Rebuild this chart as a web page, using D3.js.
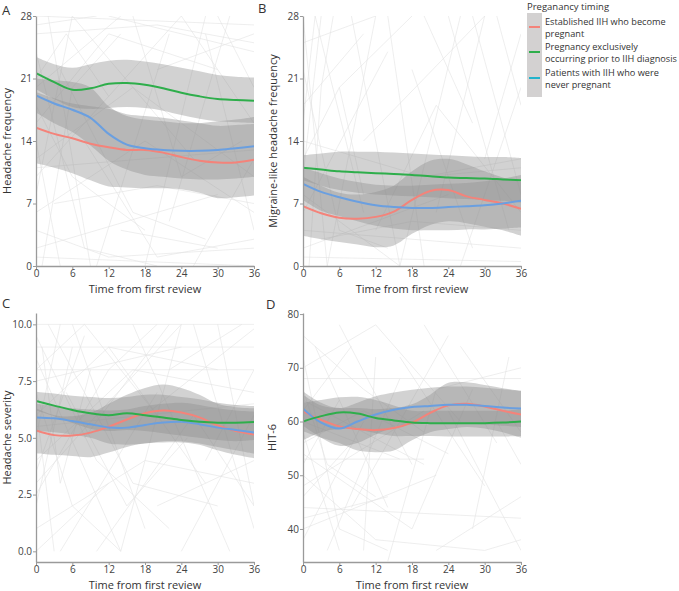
<!DOCTYPE html>
<html><head><meta charset="utf-8">
<script src="https://cdn.jsdelivr.net/npm/d3@7"></script>
<style>body{margin:0;background:#fff} text{font-family:"Open Sans",sans-serif;fill:#333}</style>
</head><body><svg id="c" width="679" height="591"></svg>
<script>
// ---------- data ----------
const times = [0,3,6,9,12,15,18,21,24,27,30,33,36];
const xTicks = [0,6,12,18,24,30,36];
const groups = ["Established IIH who become pregnant","Pregnancy exclusively occurring prior to IIH diagnosis","Patients with IIH who were never pregnant"];

// Panel A: Headache frequency
const aRed   = [15.5,14.8,14.3,13.7,13.3,13.0,13.0,12.7,12.2,11.8,11.6,11.6,11.9];
const aGreen = [21.6,20.6,19.75,19.9,20.4,20.5,20.3,19.9,19.4,19.0,18.7,18.6,18.5];
const aBlue  = [19.1,18.2,17.5,16.6,14.8,13.6,13.2,13.0,12.9,12.9,13.0,13.2,13.4];
const aRedHi = [19.5,18.8,18.2,17.9,17.6,17.0,16.8,16.6,16.3,16.0,15.7,15.8,15.9];
const aRedLo = [11.5,11.0,10.4,9.6,8.9,8.8,8.7,8.7,8.6,8.2,7.6,7.7,7.9];
const aGrnHi = [23.4,22.6,22.2,22.6,23.0,23.1,22.9,22.6,22.2,21.8,21.4,21.2,21.1];
const aGrnLo = [19.8,18.7,17.8,17.6,17.7,17.8,17.7,17.4,16.9,16.5,16.2,16.1,16.0];
const aBluHi = [21.0,20.8,20.6,20.0,17.9,16.8,16.4,16.2,16.0,16.0,16.2,16.4,16.7];
const aBluLo = [17.2,16.0,15.0,13.5,11.8,10.8,10.2,10.0,9.8,9.7,9.7,9.8,10.0];

// Panel B: Migraine-like headache frequency
const bRed   = [6.7,5.9,5.4,5.3,5.5,6.1,7.4,8.4,8.5,7.8,7.4,7.0,6.4];
const bGreen = [11.0,10.8,10.6,10.5,10.4,10.3,10.2,10.05,9.9,9.85,9.8,9.7,9.6];
const bBlue  = [9.2,8.3,7.7,7.2,6.8,6.6,6.5,6.5,6.6,6.7,6.8,7.0,7.3];
const bRedHi = [10.0,9.0,8.2,8.0,8.3,9.0,10.6,11.8,12.0,11.4,10.6,9.9,9.4];
const bRedLo = [3.4,3.0,2.7,2.4,2.1,2.3,3.6,4.6,5.0,4.8,4.4,4.0,3.4];
const bGrnHi = [12.4,12.6,12.8,12.8,12.8,12.7,12.6,12.5,12.4,12.3,12.2,12.2,12.1];
const bGrnLo = [9.6,9.0,8.5,8.2,8.0,7.9,7.8,7.7,7.6,7.5,7.4,7.3,7.1];
const bBluHi = [11.0,10.4,9.8,9.4,9.1,9.0,9.0,9.1,9.2,9.3,9.5,9.8,10.2];
const bBluLo = [7.4,6.2,5.6,5.0,4.5,4.2,4.0,4.0,4.0,4.1,4.1,4.2,4.3];

// Panel C: Headache severity
const cRed   = [5.32,5.12,5.10,5.23,5.49,5.81,6.08,6.2,6.12,5.9,5.55,5.3,5.15];
const cGreen = [6.62,6.42,6.23,6.08,6.0,6.08,6.0,5.9,5.79,5.71,5.67,5.67,5.70];
const cBlue  = [5.9,5.86,5.74,5.6,5.46,5.45,5.57,5.68,5.71,5.6,5.45,5.35,5.24];
const cRedHi = [6.3,6.0,5.95,6.1,6.5,6.9,7.2,7.35,7.2,6.9,6.5,6.35,6.3];
const cRedLo = [4.32,4.25,4.2,4.15,4.35,4.6,4.76,4.8,4.8,4.7,4.45,4.25,4.1];
const cGrnHi = [7.03,6.95,6.85,6.8,6.75,6.8,6.9,6.9,6.8,6.7,6.55,6.45,6.4];
const cGrnLo = [6.2,5.95,5.65,5.4,5.3,5.35,5.3,5.2,5.1,5.0,4.9,4.85,4.9];
const cBluHi = [6.5,6.4,6.3,6.25,6.2,6.25,6.4,6.5,6.55,6.45,6.3,6.2,6.15];
const cBluLo = [5.3,5.25,5.15,5.0,4.75,4.7,4.75,4.85,4.85,4.75,4.6,4.45,4.3];

// Panel D: HIT-6
const dRed   = [61.9,60.3,59.1,58.6,58.4,58.8,59.8,61.6,63.0,63.3,62.8,62.0,61.3];
const dGreen = [60.0,61.0,61.7,61.5,60.65,60.2,59.8,59.7,59.7,59.7,59.7,59.8,60.0];
const dBlue  = [62.4,59.8,58.7,60.0,61.3,62.2,62.7,62.9,63.1,63.1,62.9,62.6,62.4];
const dRedHi = [65.0,63.0,62.5,62.5,62.3,62.5,63.2,65.0,67.2,67.3,66.8,66.2,65.7];
const dRedLo = [58.2,57.0,56.0,54.6,54.3,54.6,56.5,58.0,58.6,59.0,58.7,58.0,57.0];
const dGrnHi = [63.5,64.0,64.5,64.6,64.0,63.0,62.0,62.0,62.0,62.0,62.0,62.0,62.3];
const dGrnLo = [56.5,58.0,58.6,58.5,57.8,57.3,57.3,57.3,57.2,57.2,57.2,57.2,57.3];
const dBluHi = [65.6,63.5,62.5,63.5,64.7,65.4,65.9,66.3,66.5,66.5,66.3,66.0,65.7];
const dBluLo = [59.2,57.0,55.5,56.0,57.6,59.0,59.5,59.7,59.7,59.6,59.5,59.2,59.0];

// individual patient trajectories (t, value pairs)
const bgA = [[0,28,36,27],[0,27,10,28],[0,24,8,2,20,0],[0,20,14,28],[0,18,6,10,18,4],[0,16,12,26,30,22],[0,14,4,0],[0,12,16,20,36,10],[0,10,24,28],[0,8,6,28],[0,6,18,14,36,6],[0,4,12,1,36,2],[0,2,30,8],[0,1,36,0],[2,28,9,0],[4,22,16,6,28,3],[6,28,26,12],[10,0,22,26],[12,28,36,24],[14,4,30,2],[16,28,24,10,34,14],[18,0,28,28],[20,22,36,26],[22,5,32,28],[24,28,36,16],[26,0,36,12],[28,26,36,4],[3,7,20,9,36,7],[0,21,5,26,12,19],[8,14,20,1,36,3],[30,28,36,20],[0,11,36,13],[0,26,20,27,36,25],[1,0,6,20,14,26]];
const bgB = [[0,28,4,0],[0,25,12,28],[0,22,6,4,14,2],[0,18,10,26],[0,14,20,10,36,12],[0,10,3,28],[0,8,16,0],[0,6,14,24],[0,4,36,2],[0,2,24,8],[0,1,36,0.5],[2,28,10,6],[4,0,12,28],[6,20,18,28],[8,28,16,0],[10,14,30,28],[12,4,22,18,36,6],[14,28,20,0],[16,0,26,28],[18,22,28,2],[20,28,28,16],[22,6,30,28],[24,28,34,4],[26,0,36,20],[28,28,36,8],[30,12,36,26],[32,28,36,18],[0,12,6,20,10,8],[3,3,18,5,36,4],[20,10,36,11],[0,16,2,28],[1,0,3,20,5,28]];
const bgC = [[0,10,36,10],[0,9,36,9],[0,8,8,10,20,6],[0,7,6,2,14,0],[0,6,12,9,30,8],[0,5,4,10],[0,4,16,8,36,7],[0,3,10,6,24,10],[0,2,6,9],[0,1,18,4,36,3],[0,0,12,3],[0,9.5,10,4,22,1],[0,8.5,14,0],[0,7.5,24,9],[0,6.5,3,0],[0,3.5,8,9.5],[2,10,16,3,30,2],[4,0,20,7],[6,10,18,1],[8,5,22,10],[10,0,26,6,36,2],[12,9,28,3],[14,0,24,10],[16,10,32,0],[18,6,36,9.8],[20,2,36,4],[22,8,34,10],[24,0,36,6],[26,10,36,1],[28,4,36,8],[0,5.5,36,6.5],[30,10,36,2],[5,7,15,2,25,5],[0,2.5,12,8,20,10],[0,8,36,8],[1,9,4,3,9,8]];
const bgD = [[0,76,10,66,20,58],[0,72,6,40,14,36],[0,70,12,78],[0,68,36,68],[0,66,4,52,12,46],[0,64,20,52],[0,62,8,74],[0,60,16,53],[0,58,6,36],[0,56,10,62,24,54],[0,54,18,40],[0,52,6,64],[0,50,12,38,30,36],[0,48,20,62],[0,46,8,56],[0,44,36,42],[0,42,14,46],[0,40,22,50],[0,38,10,60],[2,74,14,44],[4,36,16,68],[6,78,18,52],[8,44,24,76],[10,36,12,72],[12,78,26,60],[14,34,22,66,36,70],[16,72,30,48],[18,40,28,66],[20,78,32,56],[22,36,36,46],[24,62,36,36],[26,74,36,58],[28,40,34,72],[30,36,36,38],[32,60,36,52],[0,53,20,53]];

const yTicksA = [0,7,14,21,28];
const yTicksC = [0,2.5,5,7.5,10];
const yTicksD = [40,50,60,70,80];

// ---------- drawing ----------
const colRed = "#f4837a", colGreen = "#2eae4b", colBlue = "#6a9fe0", colBlueKey = "#22b3cc";
const svg = d3.select("#c");

const panels = [
  {tag:"A", L:36, R:254, T:16, B:266, dom:[0,28], ticks:yTicksA, fmt:d3.format("d"), ylab:"Headache frequency", ylx:11, tagx:2, tagy:15,
   lines:[aRed,aGreen,aBlue], hi:[aRedHi,aGrnHi,aBluHi], lo:[aRedLo,aGrnLo,aBluLo], bg:bgA},
  {tag:"B", L:303, R:521, T:16, B:266, dom:[0,28], ticks:yTicksA, fmt:d3.format("d"), ylab:"Migraine-like headache frequency", ylx:277, tagx:258, tagy:13,
   lines:[bRed,bGreen,bBlue], hi:[bRedHi,bGrnHi,bBluHi], lo:[bRedLo,bGrnLo,bBluLo], bg:bgB},
  {tag:"C", L:36, R:254, T:313, B:562, dom:[-0.47,10.5], ticks:yTicksC, fmt:d3.format(".1f"), ylab:"Headache severity", ylx:11, tagx:2, tagy:308,
   lines:[cRed,cGreen,cBlue], hi:[cRedHi,cGrnHi,cBluHi], lo:[cRedLo,cGrnLo,cBluLo], bg:bgC},
  {tag:"D", L:303, R:521, T:313, B:562, dom:[33.85,80.2], ticks:yTicksD, fmt:d3.format("d"), ylab:"HIT-6", ylx:276, tagx:266, tagy:309,
   lines:[dRed,dGreen,dBlue], hi:[dRedHi,dGrnHi,dBluHi], lo:[dRedLo,dGrnLo,dBluLo], bg:bgD}
];

panels.forEach((p,i)=>{
  const x = d3.scaleLinear().domain([0,36]).range([p.L,p.R]);
  const y = d3.scaleLinear().domain(p.dom).range([p.B,p.T]);
  const g = svg.append("g");
  const clipId = "clip"+i;
  svg.append("clipPath").attr("id",clipId).append("rect")
    .attr("x",p.L).attr("y",p.T).attr("width",p.R-p.L).attr("height",p.B-p.T);
  const plot = g.append("g").attr("clip-path",`url(#${clipId})`);

  const bgLine = d3.line().x(d=>x(d[0])).y(d=>y(d[1]));
  p.bg.forEach(arr=>{
    const pts=[]; for(let k=0;k<arr.length;k+=2) pts.push([arr[k],arr[k+1]]);
    plot.append("path").attr("d",bgLine(pts)).attr("fill","none")
      .attr("stroke","#e3e3e3").attr("stroke-width",0.6);
  });

  const area = d3.area().x((d,k)=>x(times[k])).y0(d=>y(d[0])).y1(d=>y(d[1])).curve(d3.curveCatmullRom);
  [0,1,2].forEach(s=>{
    const data = times.map((t,k)=>[p.lo[s][k],p.hi[s][k]]);
    plot.append("path").attr("d",area(data)).attr("fill","#8f8f8f").attr("opacity",0.4);
  });
  const line = d3.line().x((d,k)=>x(times[k])).y(d=>y(d)).curve(d3.curveCatmullRom);
  const cols=[colRed,colGreen,colBlue];
  [0,2,1].forEach(s=>{
    plot.append("path").attr("d",line(p.lines[s])).attr("fill","none")
      .attr("stroke",cols[s]).attr("stroke-width",2);
  });

  const ax = g.append("g").attr("transform",`translate(0,${p.B})`)
    .call(d3.axisBottom(x).tickValues(xTicks).tickSize(3).tickSizeOuter(0).tickPadding(1));
  const ay = g.append("g").attr("transform",`translate(${p.L},0)`)
    .call(d3.axisLeft(y).tickValues(p.ticks).tickFormat(p.fmt).tickSize(3).tickSizeOuter(0).tickPadding(1));
  [ax,ay].forEach(a=>{
    a.select(".domain").attr("stroke","#9a9a9a").attr("stroke-width",1.3);
    a.selectAll(".tick line").attr("stroke","#9a9a9a");
    a.selectAll("text").attr("font-size",10).style("fill","#444").attr("font-family","Open Sans");
  });

  g.append("text").attr("x",(p.L+p.R)/2).attr("y",p.B+27).attr("text-anchor","middle")
    .attr("font-size",11).text("Time from first review");
  g.append("text").attr("transform",`translate(${p.ylx},${(p.T+p.B)/2}) rotate(-90)`)
    .attr("text-anchor","middle").attr("font-size",11).text(p.ylab);
  g.append("text").attr("x",p.tagx).attr("y",p.tagy).attr("font-size",13).text(p.tag);
});

// legend
const lg = svg.append("g");
lg.append("text").attr("x",527).attr("y",10).attr("font-size",9.5).text("Preganancy timing");
lg.append("rect").attr("x",527).attr("y",13).attr("width",15).attr("height",84).attr("fill","#d3d1d1");
const legendRows = [
  {col:colRed, y:27, lines:["Established IIH who become","pregnant"]},
  {col:colGreen, y:52, lines:["Pregnancy exclusively","occurring prior to IIH diagnosis"]},
  {col:colBlueKey, y:78, lines:["Patients with IIH who were","never pregnant"]}
];
legendRows.forEach(r=>{
  lg.append("line").attr("x1",529).attr("x2",540).attr("y1",r.y).attr("y2",r.y).attr("stroke",r.col).attr("stroke-width",2);
  r.lines.forEach((t,k)=>{
    lg.append("text").attr("x",545).attr("y",r.y-2+k*12).attr("font-size",9.2).text(t);
  });
});
</script></body></html>
